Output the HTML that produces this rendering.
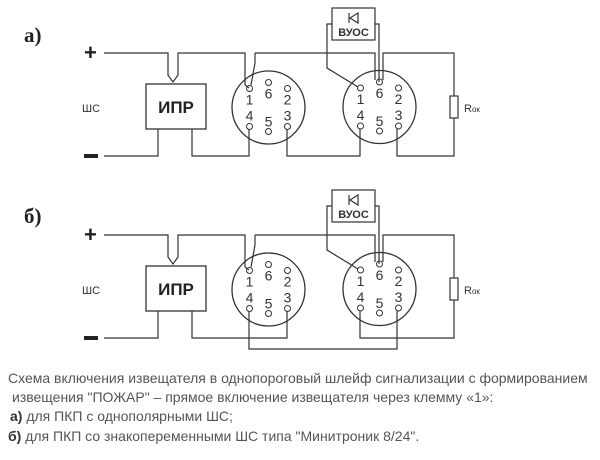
<!DOCTYPE html>
<html><head><meta charset="utf-8"><style>
html,body{margin:0;padding:0;background:#fff;width:600px;height:460px;overflow:hidden}
svg{position:absolute;left:0;top:0}
.t{position:absolute;font-family:"Liberation Sans",Arial,sans-serif;font-size:14px;color:#555;white-space:nowrap}
.t b{color:#333}
</style></head><body>
<svg width="600" height="460" xmlns="http://www.w3.org/2000/svg" font-family="Liberation Sans, Arial, sans-serif">
<defs>
<g id="conn">
 <circle cx="0" cy="0" r="36.5" fill="none" stroke="#333" stroke-width="1.3"/>
 <g fill="#fff" stroke="#333" stroke-width="1">
  <circle cx="-19" cy="-19" r="3"/><circle cx="0" cy="-25" r="3"/><circle cx="19" cy="-19" r="3"/>
  <circle cx="-19" cy="19" r="3"/><circle cx="0" cy="24" r="3"/><circle cx="19" cy="19" r="3"/>
 </g>
 <g font-size="14" fill="#333" text-anchor="middle">
  <text x="-19" y="-3">1</text><text x="0" y="-9">6</text><text x="19" y="-3">2</text>
  <text x="-19" y="13">4</text><text x="0" y="19">5</text><text x="19" y="13">3</text>
 </g>
</g>
<g id="common">
 <text x="84" y="60" font-size="22" font-weight="bold" fill="#222">+</text>
 <rect x="84" y="154" width="14" height="4" fill="#222"/>
 <text x="82" y="112" font-size="11" fill="#333">ШС</text>
 <rect x="146" y="84" width="60" height="45" fill="none" stroke="#333" stroke-width="1.3"/>
 <text x="176" y="113" font-size="17" font-weight="bold" fill="#222" text-anchor="middle">ИПР</text>
 <use href="#conn" x="268.5" y="107.5"/>
 <use href="#conn" x="379.5" y="107"/>
 <rect x="332" y="8" width="43" height="32" fill="none" stroke="#333" stroke-width="1.2"/>
 <path d="M349 13 V23 M358 13 L350 18 L358 23 Z" fill="none" stroke="#333" stroke-width="1.2"/>
 <text x="353.5" y="36" font-size="11" font-weight="bold" fill="#333" text-anchor="middle">ВУОС</text>
 <rect x="450" y="96" width="8" height="22" fill="#fff" stroke="#333" stroke-width="1.2"/>
 <text x="464" y="112" font-size="11" fill="#333">R<tspan font-size="8">ок</tspan></text>
 <g fill="none" stroke="#333" stroke-width="1.2">
  <path d="M104 53 H168 V75 L173 82 L178 75 V53 H245 V85 L249 88"/>
  <path d="M255 53 V63 L251 85 M255 53 H375 V80"/>
  <path d="M383 80 V53 H454 V96"/>
  <path d="M332 24 H327 V68 L358 87"/>
  <path d="M375 24 H379 V82"/>
  <path d="M104 156 H158 V129"/>
 </g>
</g>
</defs>
<text x="24" y="42" font-family="Liberation Serif, serif" font-size="21" font-weight="bold" fill="#222">а)</text>
<use href="#common"/>
<g fill="none" stroke="#333" stroke-width="1.2">
 <path d="M192 129 V156 H249 V129"/>
 <path d="M287 129 V156 H360 V129"/>
 <path d="M397 129 V156 H454 V118"/>
</g>
<text x="24" y="223" font-family="Liberation Serif, serif" font-size="21" font-weight="bold" fill="#222">б)</text>
<use href="#common" y="182"/>
<g fill="none" stroke="#333" stroke-width="1.2">
 <path d="M192 311 V338 H287 V311"/>
 <path d="M249 311 V349 H397 V311"/>
 <path d="M360 311 V338 H454 V300"/>
</g>
</svg>
<div class="t" style="left:8px;top:370px">Схема включения извещателя в однопороговый шлейф сигнализации с формированием</div>
<div class="t" style="left:12px;top:389px">извещения "ПОЖАР" – прямое включение извещателя через клемму «1»:</div>
<div class="t" style="left:10px;top:408px"><b>а)</b> для ПКП с однополярными ШС;</div>
<div class="t" style="left:8px;top:428px"><b>б)</b> для ПКП со знакопеременными ШС типа "Минитроник 8/24".</div>
</body></html>
